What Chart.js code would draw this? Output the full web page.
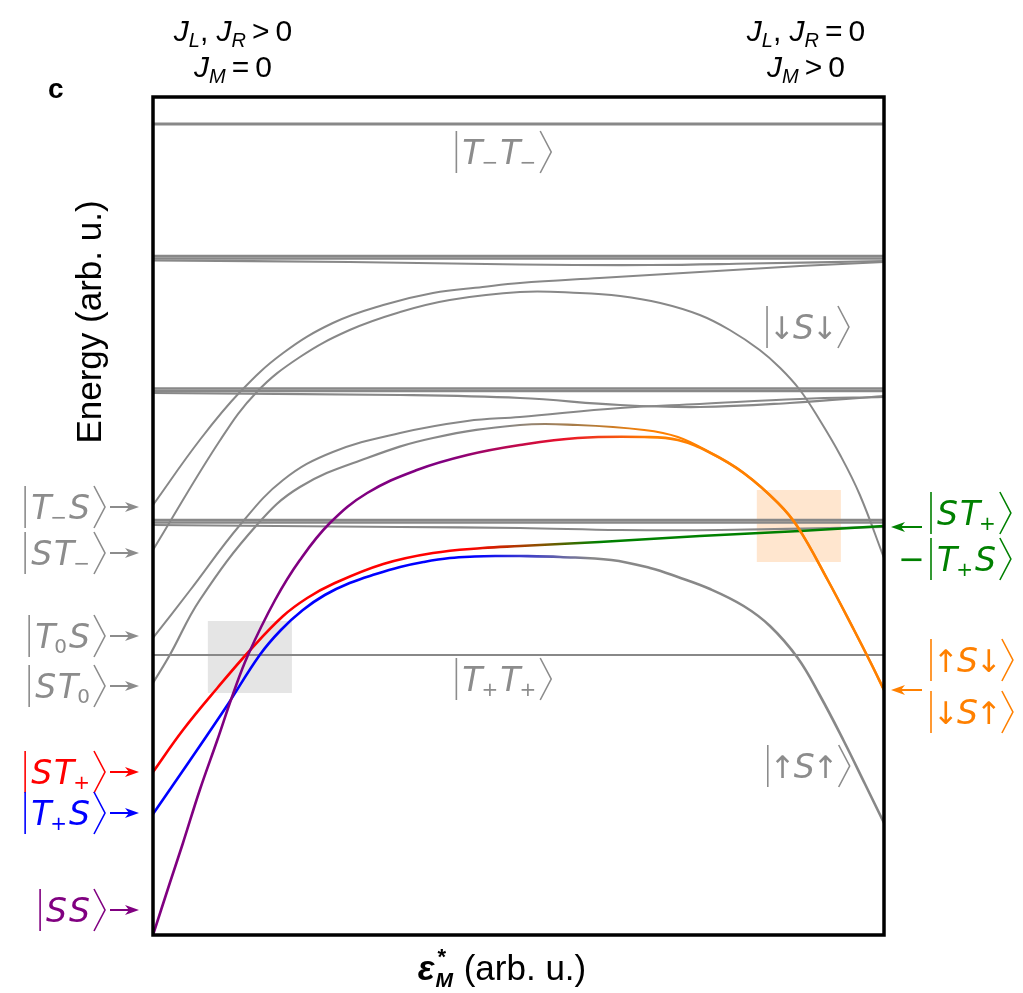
<!DOCTYPE html>
<html>
<head>
<meta charset="utf-8">
<script src="https://cdn.jsdelivr.net/npm/chart.js@4.4.1/dist/chart.umd.min.js"></script>
<style>
html,body{margin:0;background:#fff}
#wrap{width:1023px;height:993px;position:relative}
</style>
</head>
<body>
<div id="wrap"><canvas id="c"></canvas></div>
<script>
// x: detuning eps_M* (arb. u., 0..10), E: energy (arb. u., 0..83.8)
const X_MAX = 10, E_MAX = 83.8;

const flatX = [0, 10];
const tmtmE = [81.1, 81.1];          // |T-T->
const bandA1E = [67.9, 67.9];
const bandA2E = [67.65, 67.65];
const bandA3X = [0, 2.69, 5.02, 6.80, 8.17, 10];
const bandA3E = [67.45, 67.3, 67.05, 67.0, 67.15, 67.4];
const bandB1E = [54.65, 54.65];
const bandB2E = [54.4, 54.4];
const bandB3X = [0, 3.38, 5.02, 6.39, 7.48, 8.71, 10];
const bandB3E = [54.2, 54.0, 53.7, 53.0, 52.8, 53.2, 53.9];
const bandC1E = [41.5, 41.5];
const bandC2E = [41.25, 41.25];
const bandC3X = [0, 3.38, 5.02, 6.39, 7.76, 10];
const bandC3E = [41.0, 40.8, 40.7, 40.5, 40.5, 40.8];
const tptpE = [28.0, 28.0];          // |T+T+>

// |T-S> -> upper band
const g1X = [0, 0.64, 1.19, 1.78, 2.46, 3.15, 3.83, 4.51, 5.02, 6.11, 7.48, 8.85, 10];
const g1E = [43.0, 49.5, 54.3, 58.2, 61.2, 63.0, 64.2, 64.8, 65.2, 65.7, 66.3, 66.9, 67.3];
// |ST-> -> |dSd>
const g2X = [0, 0.92, 1.42, 2.01, 2.69, 3.38, 4.06, 5.02, 5.84, 6.39, 6.94, 7.48, 7.89, 8.30, 8.58, 8.85, 9.12, 9.40, 9.67, 10];
const g2E = [38.5, 49.5, 54.3, 57.8, 60.5, 62.3, 63.5, 64.3, 64.2, 63.9, 63.2, 62.0, 60.5, 58.5, 56.7, 54.5, 51.5, 48.0, 44.0, 37.7];
// |T0S> -> middle band
const g3X = [0, 0.51, 1.19, 1.78, 2.46, 3.38, 4.30, 5.02, 6.39, 7.48, 8.85, 10];
const g3E = [29.7, 34.5, 41.0, 45.5, 48.3, 50.2, 51.4, 51.8, 52.7, 53.1, 53.6, 53.8];
// |ST0> -> |uSd>
const g4X = [0, 0.23, 0.64, 1.42, 2.01, 2.93, 3.83, 5.02, 5.81, 6.72, 7.18, 7.63, 8.08, 8.55, 8.82, 9.23, 9.59, 9.82, 10];
const g4E = [25.2, 28.0, 33.5, 41.0, 44.8, 47.7, 49.7, 51.0, 51.0, 50.5, 49.8, 48.2, 46.2, 43.2, 40.8, 35.5, 30.5, 27.2, 24.5];
// |SS> -> |dSu>
const ssX = [0, 0.23, 0.41, 0.64, 0.88, 1.09, 1.30, 1.67, 2.01, 2.42, 2.93, 3.61, 4.30, 5.02, 5.81, 6.72, 7.18, 7.63, 8.08, 8.55, 8.82, 9.23, 9.59, 9.82, 10];
const ssE = [0, 5.2, 9.2, 14.5, 19.5, 24.0, 28.0, 33.5, 37.5, 41.2, 44.2, 46.5, 48.0, 49.0, 49.7, 49.8, 49.5, 48.2, 46.2, 43.2, 40.8, 35.5, 30.5, 27.2, 24.5];
// |ST+> -> |ST+> - |T+S>
const stpX = [0, 0.41, 0.88, 1.33, 1.78, 2.11, 2.46, 3.15, 3.83, 4.51, 5.02, 6.11, 7.48, 8.85, 10];
const stpE = [16.3, 20.5, 24.7, 28.5, 31.9, 33.7, 35.1, 37.1, 38.2, 38.7, 38.9, 39.3, 39.9, 40.4, 40.9];
// |T+S> -> |uSu>
const tpsX = [0, 0.5, 1.0, 1.46, 1.75, 2.05, 2.35, 2.69, 3.05, 3.38, 3.7, 4.06, 4.4, 4.75, 5.02, 5.57, 6.27, 6.80, 7.18, 7.62, 8.08, 8.44, 8.82, 9.12, 9.45, 9.74, 10];
const tpsE = [12.1, 17.4, 22.8, 28.0, 30.5, 32.5, 34.0, 35.2, 36.1, 36.8, 37.3, 37.7, 37.85, 37.9, 37.9, 37.8, 37.5, 36.7, 35.8, 34.6, 32.9, 30.9, 27.7, 24.0, 19.4, 15.1, 11.2];

// highlighted crossing regions
const grayBoxX = [0.75, 1.90], grayBoxE = [24.2, 31.4];
const orangeBoxX = [8.26, 9.41], orangeBoxE = [37.3, 44.5];

const GRAY = "#888888", KET_GRAY = "#8c8c8c";
const RED = "#ff0000", BLUE = "#0000ff", PURPLE = "#800080", ORANGE = "#ff8000", GREEN = "#008000";

const redGreenStops = [[0, RED], [4.3, RED], [5.3, "#8a5200"], [6.1, GREEN], [10, GREEN]];
const blueGrayStops = [[0, BLUE], [4.4, BLUE], [6.0, GRAY], [10, GRAY]];
const purpleOrangeStops = [[0, PURPLE], [4.0, PURPLE], [5.6, "#e8102a"], [6.8, ORANGE], [10, ORANGE]];
const grayOrangeStops = [[0, GRAY], [4.8, GRAY], [6.0, "#b07a3a"], [6.8, ORANGE], [10, ORANGE]];

function gradient(stops){
  return ctx => {
    const ch = ctx.chart;
    if(!ch.chartArea) return stops[0][1];
    const xs = ch.scales.x;
    const g = ch.ctx.createLinearGradient(xs.getPixelForValue(0), 0, xs.getPixelForValue(X_MAX), 0);
    stops.forEach(([p, c]) => g.addColorStop(p / X_MAX, c));
    return g;
  };
}

function series(xs, es, color, width, order){
  return {data: xs.map((x, i) => ({x, y: es[i]})), borderColor: color, borderWidth: width, order, fill: false, pointRadius: 0};
}

const datasets = [
  series(ssX, ssE, gradient(purpleOrangeStops), 2.6, 0),
  series(stpX, stpE, gradient(redGreenStops), 2.6, 0),
  series(tpsX, tpsE, gradient(blueGrayStops), 2.6, 0),
  series(g4X, g4E, gradient(grayOrangeStops), 2.2, 0),
  series(g1X, g1E, GRAY, 2, 1),
  series(g2X, g2E, GRAY, 2, 1),
  series(g3X, g3E, GRAY, 2, 1),
  series(flatX, tmtmE, GRAY, 3.2, 1),
  series(flatX, bandA1E, GRAY, 2.6, 1),
  series(flatX, bandA2E, GRAY, 2.6, 1),
  series(bandA3X, bandA3E, GRAY, 2.2, 1),
  series(flatX, bandB1E, GRAY, 2.6, 1),
  series(flatX, bandB2E, GRAY, 2.6, 1),
  series(bandB3X, bandB3E, GRAY, 2.2, 1),
  series(flatX, bandC1E, GRAY, 2.6, 1),
  series(flatX, bandC2E, GRAY, 2.6, 1),
  series(bandC3X, bandC3E, GRAY, 2.2, 1),
  series(flatX, tptpE, GRAY, 2.2, 1)
];

const KET = '"DejaVu Sans"';
const SANS = '"Liberation Sans", Arial, sans-serif';

const isArrow = m => m === "↑" || m === "↓";
// arrows: upright, with their wide side bearings trimmed
function tokenFont(m){ return isArrow(m) ? `31px ${KET}` : `italic 33px ${KET}`; }
function tokenTrim(m){ return isArrow(m) ? 4 : 0; }
function subFont(s){ return /[0-9]/.test(s) ? `20px ${KET}` : `italic 20px ${KET}`; }

function drawKet(ctx, x, y, tokens, color, align){
  const h = 21, bw = 11;
  let w = 6;
  tokens.forEach(([m, s]) => {
    ctx.font = tokenFont(m); w += ctx.measureText(m).width - 2 * tokenTrim(m) + 2;
    if(s){ ctx.font = subFont(s); w += ctx.measureText(s).width - 1; }
  });
  w += 2;
  const x0 = align === "right" ? x - w - bw : x;
  ctx.save();
  ctx.strokeStyle = color; ctx.fillStyle = color; ctx.lineWidth = 1.6;
  ctx.textAlign = "left"; ctx.textBaseline = "alphabetic";
  ctx.beginPath(); ctx.moveTo(x0, y - h); ctx.lineTo(x0, y + h); ctx.stroke();
  let cx = x0 + 6;
  const base = y + 12;
  tokens.forEach(([m, s]) => {
    const tr = tokenTrim(m);
    ctx.font = tokenFont(m); ctx.fillText(m, cx - tr, base); cx += ctx.measureText(m).width - 2 * tr + 2;
    if(s){ ctx.font = subFont(s); ctx.fillText(s, cx - 3, base + 5); cx += ctx.measureText(s).width - 1; }
  });
  cx += 2;
  ctx.beginPath(); ctx.moveTo(cx, y - h); ctx.lineTo(cx + bw, y); ctx.lineTo(cx, y + h); ctx.stroke();
  ctx.restore();
}

function drawArrow(ctx, x1, y, x2, color){
  const d = Math.sign(x2 - x1);
  ctx.save();
  ctx.strokeStyle = color; ctx.fillStyle = color; ctx.lineWidth = 2;
  ctx.beginPath(); ctx.moveTo(x1, y); ctx.lineTo(x2 - d * 8, y); ctx.stroke();
  ctx.beginPath();
  ctx.moveTo(x2, y); ctx.lineTo(x2 - d * 14, y - 5); ctx.lineTo(x2 - d * 10, y); ctx.lineTo(x2 - d * 14, y + 5);
  ctx.closePath(); ctx.fill();
  ctx.restore();
}

function rich(ctx, cx, base, runs){
  let w = 0;
  runs.forEach(r => { ctx.font = r[1]; w += ctx.measureText(r[0]).width; });
  let x = cx - w / 2;
  ctx.textAlign = "left"; ctx.fillStyle = "#000";
  runs.forEach(r => { ctx.font = r[1]; ctx.fillText(r[0], x, base + (r[2] || 0)); x += ctx.measureText(r[0]).width; });
}

const leftKets = [
  {t: [["T", "−"], ["S"]], c: KET_GRAY, e: 42.8},
  {t: [["S"], ["T", "−"]], c: KET_GRAY, e: 38.2},
  {t: [["T", "0"], ["S"]], c: KET_GRAY, e: 29.9},
  {t: [["S"], ["T", "0"]], c: KET_GRAY, e: 24.9},
  {t: [["S"], ["T", "+"]], c: RED, e: 16.3},
  {t: [["T", "+"], ["S"]], c: BLUE, e: 12.2},
  {t: [["S"], ["S"]], c: PURPLE, e: 2.5}
];
const innerKets = [
  {t: [["T", "−"], ["T", "−"]], x: 4.15, e: 78.3},
  {t: [["↓"], ["S"], ["↓"]], x: 8.40, e: 60.8},
  {t: [["T", "+"], ["T", "+"]], x: 4.15, e: 25.6},
  {t: [["↑"], ["S"], ["↑"]], x: 8.41, e: 16.9}
];

const boxesPlugin = {
  id: "boxes",
  beforeDatasetsDraw(ch){
    const {ctx, scales: {x, y}} = ch;
    const box = (bx, be, col) => {
      const l = x.getPixelForValue(bx[0]), r = x.getPixelForValue(bx[1]);
      const t = y.getPixelForValue(be[1]), b = y.getPixelForValue(be[0]);
      ctx.fillStyle = col; ctx.fillRect(l, t, r - l, b - t);
    };
    ctx.save();
    box(grayBoxX, grayBoxE, "#e5e5e5");
    box(orangeBoxX, orangeBoxE, "#ffe6cf");
    ctx.restore();
  }
};

const labelPlugin = {
  id: "labels",
  afterDraw(ch){
    const {ctx, chartArea: a, scales: {x, y}} = ch;
    ctx.save();
    // frame
    ctx.strokeStyle = "#000"; ctx.lineWidth = 3.5;
    ctx.strokeRect(a.left, a.top, a.right - a.left, a.bottom - a.top);

    leftKets.forEach(k => {
      const py = y.getPixelForValue(k.e);
      drawKet(ctx, a.left - 48, py, k.t, k.c, "right");
      drawArrow(ctx, a.left - 43, py, a.left - 14, k.c);
    });
    innerKets.forEach(k => drawKet(ctx, x.getPixelForValue(k.x), y.getPixelForValue(k.e), k.t, KET_GRAY, "left"));

    // right side
    const rx = a.right + 47;
    drawArrow(ctx, a.right + 38, y.getPixelForValue(40.8), a.right + 7, GREEN);
    drawKet(ctx, rx, y.getPixelForValue(42.2), [["S"], ["T", "+"]], GREEN, "left");
    ctx.fillStyle = GREEN; ctx.font = `32px ${KET}`; ctx.textAlign = "right";
    ctx.fillText("−", rx - 6, y.getPixelForValue(37.6) + 11);
    drawKet(ctx, rx, y.getPixelForValue(37.6), [["T", "+"], ["S"]], GREEN, "left");
    drawArrow(ctx, a.right + 38, y.getPixelForValue(24.5), a.right + 7, ORANGE);
    drawKet(ctx, rx, y.getPixelForValue(27.5), [["↑"], ["S"], ["↓"]], ORANGE, "left");
    drawKet(ctx, rx, y.getPixelForValue(22.3), [["↓"], ["S"], ["↑"]], ORANGE, "left");

    // regime headers
    const IT = `italic 30px ${SANS}`, SUB = `italic 20px ${SANS}`, RG = `30px ${SANS}`;
    rich(ctx, 233, 41, [["J", IT], ["L", SUB, 6], [", ", RG], ["J", IT], ["R", SUB, 6], ["\u2009>\u20090", RG]]);
    rich(ctx, 233, 77, [["J", IT], ["M", SUB, 6], ["\u2009=\u20090", RG]]);
    rich(ctx, 806, 41, [["J", IT], ["L", SUB, 6], [", ", RG], ["J", IT], ["R", SUB, 6], ["\u2009=\u20090", RG]]);
    rich(ctx, 806, 77, [["J", IT], ["M", SUB, 6], ["\u2009>\u20090", RG]]);

    // panel letter
    ctx.fillStyle = "#000"; ctx.textAlign = "left";
    ctx.font = `bold 28px ${SANS}`;
    ctx.fillText("c", 48, 98);

    // y title
    ctx.save();
    ctx.translate(101, 322); ctx.rotate(-Math.PI / 2);
    ctx.textAlign = "center"; ctx.font = `35px ${SANS}`;
    ctx.fillText("Energy (arb. u.)", 0, 0);
    ctx.restore();

    // x title
    const fe = `bold italic 35px ${SANS}`, fs = `bold 22px ${SANS}`, fm = `bold italic 21px ${SANS}`, fr = `35px ${SANS}`;
    ctx.font = fe; const we = ctx.measureText("ε").width;
    ctx.font = fm; const wm = ctx.measureText("M").width;
    ctx.font = fr; const wr = ctx.measureText(" (arb. u.)").width;
    let tx = 502 - (we + wm + 2 + wr) / 2;
    const tb = 980;
    ctx.font = fe; ctx.fillText("ε", tx, tb); tx += we + 1;
    ctx.font = fs; ctx.fillText("*", tx + 2, tb - 16);
    ctx.font = fm; ctx.fillText("M", tx, tb + 7); tx += wm + 1;
    ctx.font = fr; ctx.fillText(" (arb. u.)", tx, tb);
    ctx.restore();
  }
};

new Chart(document.getElementById("c"), {
  type: "line",
  data: {datasets},
  options: {
    responsive: true,
    maintainAspectRatio: false,
    animation: false,
    layout: {padding: {left: 153, top: 97, right: 139, bottom: 58}},
    plugins: {legend: {display: false}, tooltip: {enabled: false}},
    elements: {point: {radius: 0}, line: {tension: 0.4}},
    scales: {
      x: {type: "linear", min: 0, max: X_MAX, display: false},
      y: {type: "linear", min: 0, max: E_MAX, display: false}
    }
  },
  plugins: [boxesPlugin, labelPlugin]
});
</script>
</body>
</html>
